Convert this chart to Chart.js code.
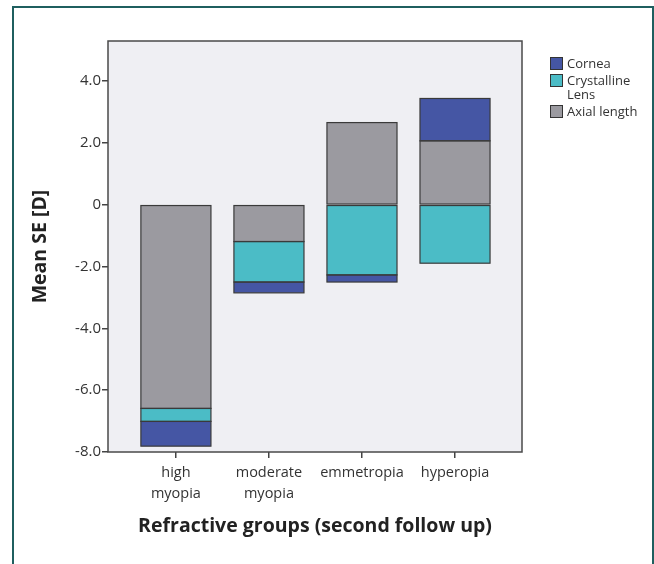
<!DOCTYPE html>
<html>
<head>
<meta charset="utf-8">
<script src="https://cdn.jsdelivr.net/npm/chart.js@4/dist/chart.umd.min.js"></script>
<style>
  html, body { margin: 0; padding: 0; background: #fff; overflow: hidden; }
  #frame { position: absolute; left: 12px; top: 6px; width: 638px; height: 620px; border: 2px solid #1f5f5f; }
  #chart { position: absolute; left: 0; top: 0; }
  #legend { position: absolute; left: 550px; top: 57px; font-family: 'Open Sans', sans-serif; font-size: 13px; color: #333; }
  #legend .item { display: flex; align-items: flex-start; margin-bottom: 4px; }
  #legend .box { width: 11px; height: 11px; border: 1px solid #333; margin-right: 4px; flex: none; }
  #legend .txt { width: 86px; line-height: 14px; margin-top: -1px; }
</style>
</head>
<body>
<div id="frame"></div>
<canvas id="chart" width="654" height="564"></canvas>
<div id="legend"></div>
<script>
// categories and series (stack order from zero outwards: axial, lens, cornea)
const groups = [['high', 'myopia'], ['moderate', 'myopia'], ['emmetropia'], ['hyperopia']];
const axialLength = [-6.59, -1.19, 2.66, 2.07];
const crystallineLens = [-0.42, -1.31, -2.27, -1.89];
const cornea = [-0.80, -0.35, -0.23, 1.37];
const yTicks = [-8, -6, -4, -2, 0, 2, 4];

const series = [
    { label: 'Axial length', values: axialLength, color: '#9b9aa0' },
    { label: 'Crystalline Lens', values: crystallineLens, color: '#4bbcc6' },
    { label: 'Cornea', values: cornea, color: '#4556a4' }
];

const plotFrame = {
    id: 'plotFrame',
    beforeDraw(chart) {
        const a = chart.chartArea, c = chart.ctx;
        c.save();
        c.fillStyle = '#efeff3';
        c.fillRect(a.left, a.top, a.right - a.left, a.bottom - a.top);
        c.restore();
    },
    afterDatasetsDraw(chart) {
        // crisp outlines round every bar segment
        const c = chart.ctx;
        c.save();
        c.strokeStyle = '#3a3a3a';
        c.lineWidth = 1.2;
        chart.data.datasets.forEach((ds, i) => {
            chart.getDatasetMeta(i).data.forEach(bar => {
                const p = bar.getProps(['x', 'y', 'base', 'width'], true);
                const top = Math.min(p.y, p.base), h = Math.abs(p.y - p.base);
                c.strokeRect(p.x - p.width / 2, top, p.width, h);
            });
        });
        c.restore();
    },
    afterDraw(chart) {
        const a = chart.chartArea, c = chart.ctx;
        c.save();
        c.strokeStyle = '#4a4a4a';
        c.lineWidth = 1.5;
        c.strokeRect(a.left, a.top, a.right - a.left, a.bottom - a.top);
        c.restore();
    }
};

const ctx = document.getElementById('chart').getContext('2d');
new Chart(ctx, {
    type: 'bar',
    data: {
        datasets: series.map(s => ({
            label: s.label,
            data: s.values.map((v, i) => ({ x: i, y: v })),
            backgroundColor: s.color,
            borderWidth: 0,
            inflateAmount: 0,
            stack: 'se',
            barPercentage: 0.753,
            categoryPercentage: 1
        }))
    },
    options: {
        responsive: false,
        animation: false,
        layout: { padding: { left: 25, right: 132, top: 41, bottom: 22 } },
        plugins: { legend: { display: false }, tooltip: { enabled: false } },
        scales: {
            x: {
                type: 'linear',
                bounds: 'data',
                offset: false,
                min: -0.73,
                max: 3.72,
                grid: { offset: false, drawOnChartArea: false, tickLength: 6, color: '#444', lineWidth: 1.5 },
                border: { display: false },
                afterBuildTicks: s => { s.ticks = groups.map((g, i) => ({ value: i })); },
                ticks: {
                    autoSkip: false,
                    maxRotation: 0,
                    padding: 5,
                    color: '#333',
                    font: { family: 'Open Sans', size: 14.5, lineHeight: 1.4 },
                    callback: v => groups[v] || ''
                },
                title: {
                    display: true,
                    text: 'Refractive groups (second follow up)',
                    color: '#222',
                    font: { family: 'Open Sans', size: 19.5, weight: 'bold' }
                },
                afterFit: s => { s.height = 90; }
            },
            y: {
                stacked: true,
                bounds: 'data',
                min: -8,
                max: 5.3,
                grid: { drawOnChartArea: false, tickLength: 6, color: '#444', lineWidth: 1.5 },
                border: { display: false },
                afterBuildTicks: s => { s.ticks = yTicks.map(v => ({ value: v })); },
                ticks: {
                    padding: 1,
                    color: '#333',
                    font: { family: 'Open Sans', size: 15 },
                    callback: v => v === 0 ? '0' : v.toFixed(1)
                },
                title: {
                    display: true,
                    text: 'Mean SE [D]',
                    color: '#222',
                    font: { family: 'Open Sans', size: 19.5, weight: 'bold' }
                },
                afterFit: s => { s.width = 83; }
            }
        }
    },
    plugins: [plotFrame]
});

// legend: Cornea on top, as in the figure
const legend = document.getElementById('legend');
series.slice().reverse().forEach(s => {
    const item = document.createElement('div');
    item.className = 'item';
    item.innerHTML = '<div class="box" style="background:' + s.color + '"></div><div class="txt">' + s.label + '</div>';
    legend.appendChild(item);
});
</script>
</body>
</html>
